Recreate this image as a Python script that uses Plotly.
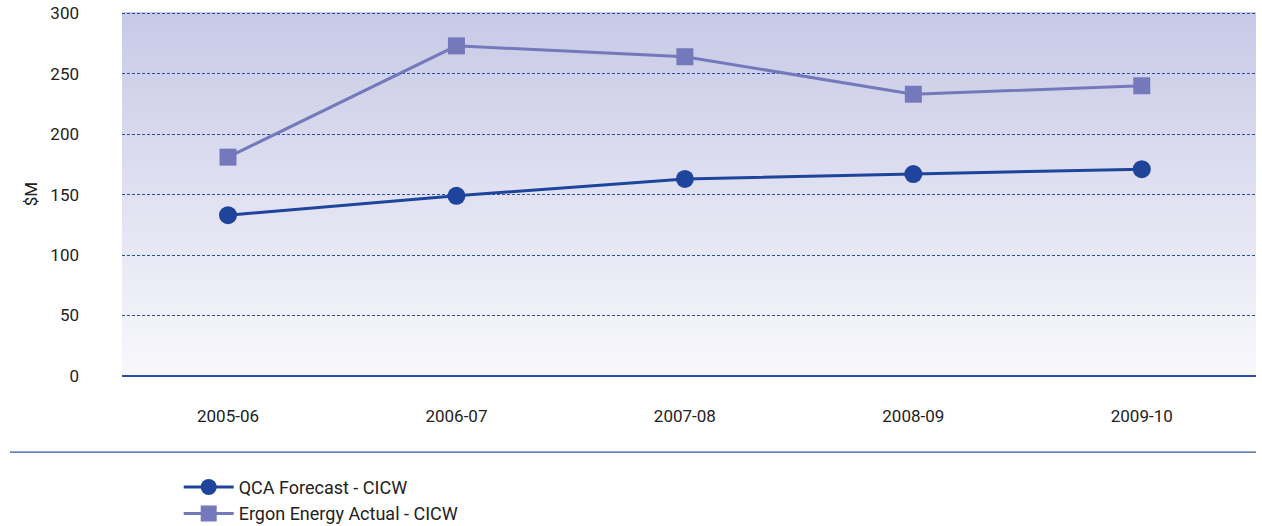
import plotly.graph_objects as go

categories = ["2005-06", "2006-07", "2007-08", "2008-09", "2009-10"]
qca_forecast = [133, 149, 163, 167, 171]
ergon_actual = [181, 273, 264, 233, 240]
y_ticks = [0, 50, 100, 150, 200, 250, 300]

QCA_COLOR = "#1e449c"
ERGON_COLOR = "#7479bb"
FONT = "Roboto"
TXT = "#222222"

fig = go.Figure()

fig.add_trace(go.Scatter(
    x=categories, y=qca_forecast, name="QCA Forecast - CICW",
    mode="lines+markers",
    line=dict(color=QCA_COLOR, width=3),
    marker=dict(symbol="circle", size=18, color=QCA_COLOR),
))
fig.add_trace(go.Scatter(
    x=categories, y=ergon_actual, name="Ergon Energy Actual - CICW",
    mode="lines+markers",
    line=dict(color=ERGON_COLOR, width=3),
    marker=dict(symbol="square", size=17, color=ERGON_COLOR),
))

# vertical gradient background of plot area
n = 121
top = (200, 201, 230)
bot = (248, 248, 252)
shapes = []
for i in range(n):
    t = i / (n - 1)
    c = tuple(round(bot[k] + (top[k] - bot[k]) * t) for k in range(3))
    shapes.append(dict(
        type="rect", xref="x domain", yref="y domain",
        x0=0, x1=1, y0=i / n, y1=min(1, (i + 1.6) / n),
        fillcolor="rgb(%d,%d,%d)" % c, line=dict(width=0), layer="below",
    ))
# separator line below the x tick labels
shapes.append(dict(
    type="line", xref="paper", yref="paper",
    x0=-0.0988, x1=1, y0=-0.209, y1=-0.209,
    line=dict(color="#2a55a8", width=1.2),
))

fig.update_layout(
    width=1262, height=526,
    margin=dict(l=122, r=6, t=12, b=150, autoexpand=False),
    paper_bgcolor="white",
    plot_bgcolor="rgba(0,0,0,0)",
    font=dict(family=FONT, size=17, color=TXT),
    shapes=shapes,
    showlegend=True,
    legend=dict(
        x=0.05, y=-0.255, xanchor="left", yanchor="top",
        font=dict(family=FONT, size=18, color=TXT),
        tracegroupgap=0, itemwidth=50,
        bgcolor="rgba(0,0,0,0)",
    ),
    xaxis=dict(
        type="category", range=[-0.464, 4.5],
        showgrid=False, zeroline=False, showline=False,
        ticks="", ticklabelstandoff=28,
        tickfont=dict(family=FONT, size=17, color=TXT),
    ),
    yaxis=dict(
        range=[0, 301],
        tickvals=y_ticks,
        showgrid=True, gridcolor="#2a4ea3", griddash="3px,2px", gridwidth=1,
        zeroline=True, zerolinecolor="#2a4ea3", zerolinewidth=1.5,
        showline=False, ticks="", ticklabelstandoff=42,
        tickfont=dict(family=FONT, size=17, color=TXT),
        title=dict(text="$M", font=dict(family=FONT, size=17, color=TXT), standoff=8),
    ),
)

fig.write_html("out.html")
